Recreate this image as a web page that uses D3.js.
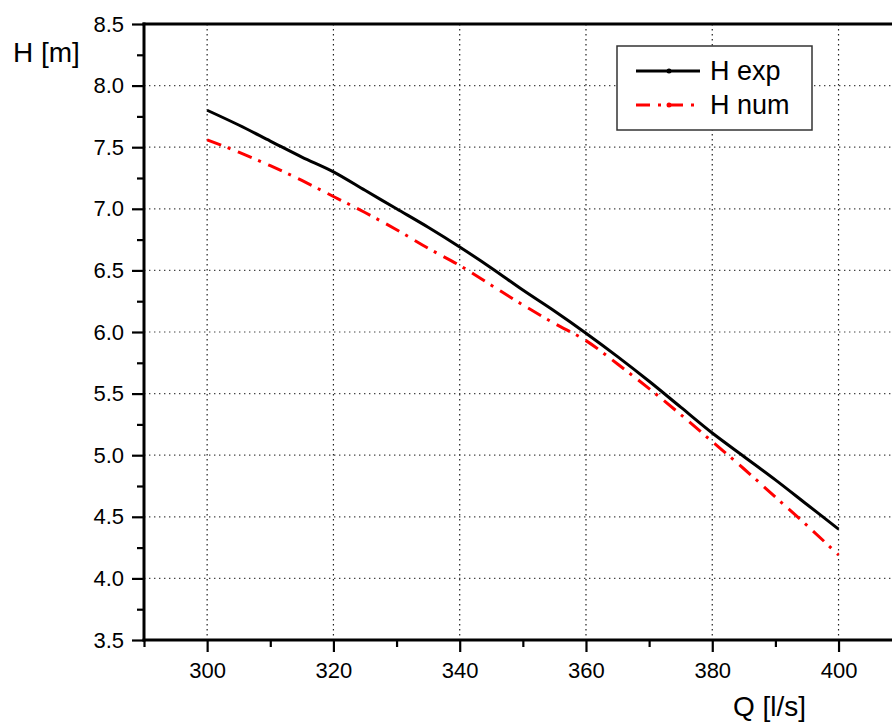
<!DOCTYPE html>
<html>
<head>
<meta charset="utf-8">
<script src="https://cdn.jsdelivr.net/npm/d3@7/dist/d3.min.js"></script>
<style>
  html, body { margin: 0; padding: 0; background: #fff; overflow: hidden; }
  svg { display: block; font-family: "Liberation Sans", Arial, Helvetica, sans-serif; }
</style>
</head>
<body>
<svg id="chart" width="892" height="724"></svg>
<script>
// Durchfluss Q [l/s]
const flowQ = [300, 305, 310, 315, 320, 325, 330, 335, 340, 345, 350,
               355, 360, 365, 370, 375, 380, 385, 390, 395, 400];
// Förderhöhe gemessen
const hExp = [7.80, 7.68, 7.55, 7.42, 7.30, 7.15, 7.00, 6.85, 6.69, 6.52, 6.34,
              6.17, 5.99, 5.80, 5.60, 5.39, 5.18, 4.99, 4.80, 4.60, 4.40];
// Förderhöhe numerisch
const hNum = [7.56, 7.46, 7.35, 7.23, 7.10, 6.97, 6.83, 6.68, 6.54, 6.38, 6.22,
              6.07, 5.93, 5.74, 5.54, 5.33, 5.11, 4.89, 4.66, 4.43, 4.19];

const xTicks = [300, 320, 340, 360, 380, 400];
const xMinor = [290, 310, 330, 350, 370, 390, 410];
const yTicks = [3.5, 4.0, 4.5, 5.0, 5.5, 6.0, 6.5, 7.0, 7.5, 8.0, 8.5];
const yMinor = [3.75, 4.25, 4.75, 5.25, 5.75, 6.25, 6.75, 7.25, 7.75, 8.25];

const seriesNames = ["H exp", "H num"];

const svg = d3.select("#chart");
const margin = { left: 144, top: 24, bottom: 640 };

const x = d3.scaleLinear().domain([290, 410]).range([margin.left, margin.left + 120 * 6.314]);
const y = d3.scaleLinear().domain([3.5, 8.5]).range([margin.bottom, margin.top]);

svg.append("rect").attr("width", 892).attr("height", 724).attr("fill", "#fff");

// Raster (gepunktet)
svg.append("g")
    .selectAll("line")
    .data(xTicks)
    .enter().append("line")
    .attr("x1", d => x(d)).attr("x2", d => x(d))
    .attr("y1", y(8.5)).attr("y2", y(3.5))
    .attr("stroke", "#222")
    .attr("stroke-width", 1.2)
    .attr("stroke-dasharray", "1.4,3.6");

svg.append("g")
    .selectAll("line")
    .data(yTicks.filter(d => d > 3.5 && d < 8.5))
    .enter().append("line")
    .attr("x1", x(290)).attr("x2", x(410))
    .attr("y1", d => y(d)).attr("y2", d => y(d))
    .attr("stroke", "#444")
    .attr("stroke-width", 1.2)
    .attr("stroke-dasharray", "1.4,3.6");

// Achsen
function styleAxis(g) {
    g.select(".domain").remove();
    g.selectAll(".tick line").attr("stroke", "#000").attr("stroke-width", 2.2);
    g.selectAll(".tick text").attr("fill", "#000").style("font-size", "22px")
        .style("font-family", "\"Liberation Sans\", Arial, sans-serif");
}

svg.append("g")
    .attr("transform", `translate(${margin.left}, 0)`)
    .call(d3.axisLeft(y).tickValues(yMinor).tickSize(7).tickFormat(""))
    .call(styleAxis);

svg.append("g")
    .attr("transform", `translate(${margin.left}, 0)`)
    .call(d3.axisLeft(y).tickValues(yTicks).tickSize(12).tickPadding(8).tickFormat(d3.format(".1f")))
    .call(styleAxis);

svg.append("g")
    .attr("transform", `translate(0, ${margin.bottom})`)
    .call(d3.axisBottom(x).tickValues(xMinor).tickSize(7).tickFormat(""))
    .call(styleAxis);

svg.append("g")
    .attr("transform", `translate(0, ${margin.bottom})`)
    .call(d3.axisBottom(x).tickValues(xTicks).tickSize(12).tickPadding(10).tickFormat(d3.format("d")))
    .call(styleAxis);

// Rahmenlinien
svg.append("line")
    .attr("x1", x(290)).attr("x2", x(290))
    .attr("y1", y(8.5) - 1.5).attr("y2", y(3.5) + 1.5)
    .attr("stroke", "#000").attr("stroke-width", 3);
svg.append("line")
    .attr("x1", x(290) - 1.5).attr("x2", x(410))
    .attr("y1", y(3.5)).attr("y2", y(3.5))
    .attr("stroke", "#000").attr("stroke-width", 3);
svg.append("line")
    .attr("x1", x(290) - 1.5).attr("x2", x(410))
    .attr("y1", y(8.5)).attr("y2", y(8.5))
    .attr("stroke", "#000").attr("stroke-width", 3);

// Achsentitel
svg.append("text")
    .attr("x", 13).attr("y", 62)
    .style("font-size", "28px")
    .text("H [m]");

svg.append("text")
    .attr("x", 733).attr("y", 716)
    .style("font-size", "28px")
    .text("Q [l/s]");

// Kurven
const lineGen = d3.line()
    .x((d, i) => x(flowQ[i]))
    .y(d => y(d))
    .curve(d3.curveMonotoneX);

svg.append("path")
    .datum(hExp)
    .attr("fill", "none")
    .attr("stroke", "#000")
    .attr("stroke-width", 3)
    .attr("stroke-linejoin", "round")
    .attr("d", lineGen);

svg.append("path")
    .datum(hNum)
    .attr("fill", "none")
    .attr("stroke", "#f00")
    .attr("stroke-width", 3)
    .attr("stroke-dasharray", "15,7,3,8")
    .attr("d", lineGen);

// Legende
const legend = svg.append("g").attr("transform", "translate(617, 46)");

legend.append("rect")
    .attr("width", 195).attr("height", 84)
    .attr("fill", "#fff")
    .attr("stroke", "#333")
    .attr("stroke-width", 1.5);

const legendStyles = [
    { color: "#000", dash: null },
    { color: "#f00", dash: "14,8,3,8" }
];

seriesNames.forEach((name, i) => {
    const ly = 25 + i * 34;
    legend.append("line")
        .attr("x1", 19).attr("x2", 83)
        .attr("y1", ly).attr("y2", ly)
        .attr("stroke", legendStyles[i].color)
        .attr("stroke-width", 3)
        .attr("stroke-dasharray", legendStyles[i].dash);
    legend.append("circle")
        .attr("cx", 52).attr("cy", ly)
        .attr("r", 2.5)
        .attr("fill", legendStyles[i].color);
    legend.append("text")
        .attr("x", 93).attr("y", ly + 9)
        .style("font-size", "27px")
        .text(name);
});
</script>
</body>
</html>
